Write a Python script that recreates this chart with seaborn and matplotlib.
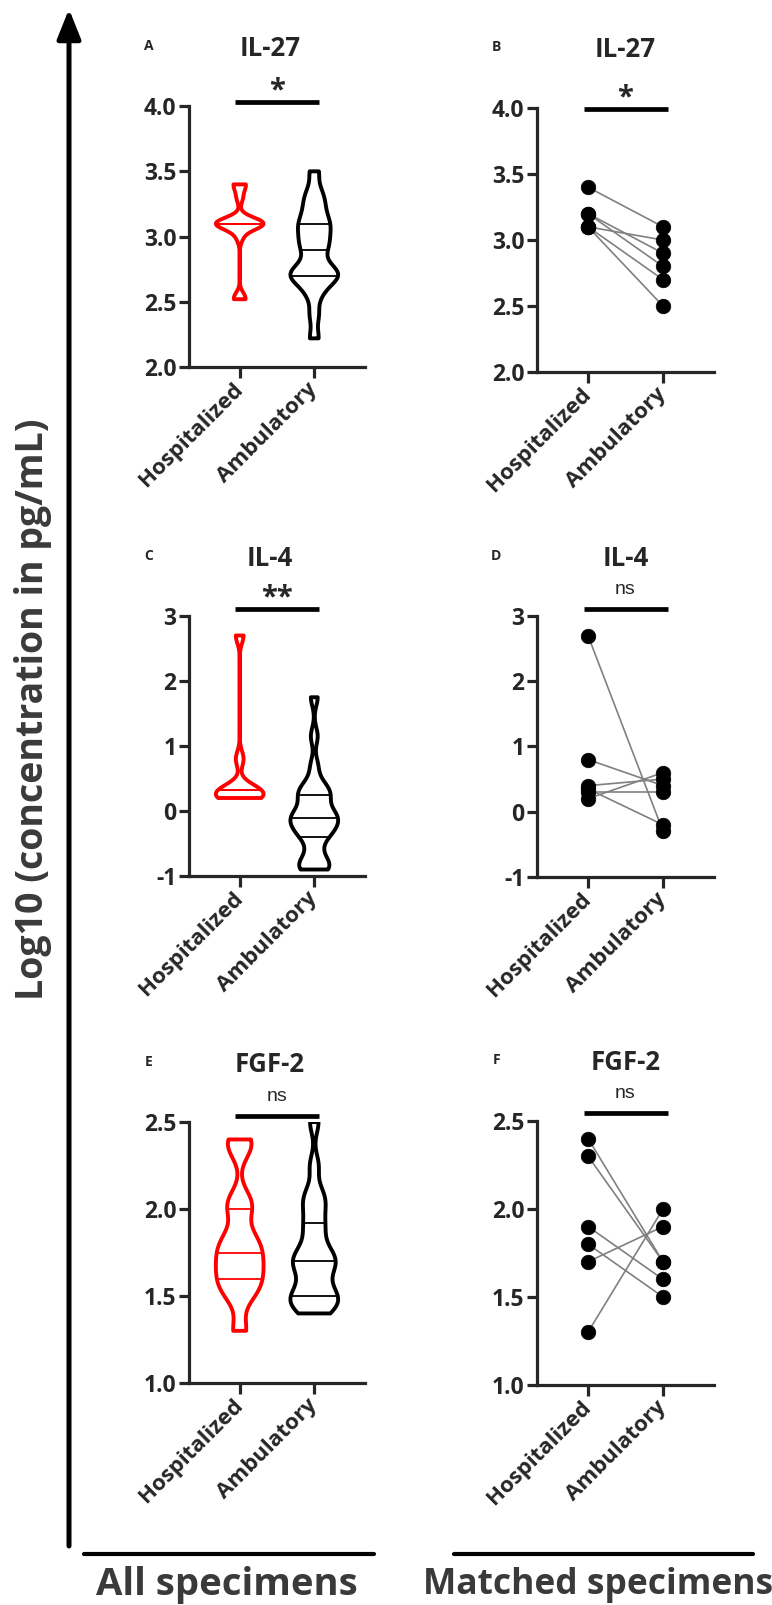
import numpy as np
import pandas as pd
import matplotlib
matplotlib.use("Agg")
import matplotlib.pyplot as plt
from matplotlib.lines import Line2D
from matplotlib.ticker import FormatStrFormatter
import seaborn as sns

groups = ["Hospitalized", "Ambulatory"]
cytokines = ["IL-27", "IL-4", "FGF-2"]

# all specimens, log10 pg/mL
il27_hosp = [2.52, 2.53, 3.0, 3.1, 3.1, 3.1, 3.1, 3.1, 3.1, 3.1, 3.1, 3.3, 3.4, 3.4]
il27_amb = [2.22, 2.4, 2.55, 2.62, 2.68, 2.7, 2.7, 2.72, 2.75, 2.8, 2.9,
            2.92, 2.98, 3.02, 3.08, 3.1, 3.15, 3.22, 3.28, 3.35, 3.5]
il4_hosp = [0.2, 0.2, 0.2, 0.25, 0.33, 0.33, 0.33, 0.8, 2.7]
il4_amb = [-0.9, -0.9, -0.85, -0.8, -0.7, -0.55, -0.4, -0.35, -0.3, -0.25, -0.2, -0.15,
           -0.1, -0.08, -0.05, 0.0, 0.1, 0.2, 0.25, 0.3, 0.35, 0.45, 0.7, 1.15, 1.75]
fgf2_hosp = [1.3, 1.5, 1.55, 1.6, 1.65, 1.7, 1.75, 1.8, 1.85, 2.0, 2.05, 2.35, 2.4]
fgf2_amb = [1.4, 1.42, 1.45, 1.48, 1.5, 1.5, 1.55, 1.6, 1.65, 1.68, 1.7,
            1.72, 1.75, 1.8, 1.88, 1.92, 2.0, 2.05, 2.1, 2.25, 2.5]

# matched specimens (same index = same patient)
il27_pair_hosp = [3.4, 3.1, 3.2, 3.2, 3.1, 3.1]
il27_pair_amb = [3.1, 3.0, 2.9, 2.8, 2.7, 2.5]
il4_pair_hosp = [2.7, 0.8, 0.4, 0.3, 0.2, 0.35]
il4_pair_amb = [-0.3, 0.4, 0.5, 0.3, 0.6, -0.2]
fgf2_pair_hosp = [2.4, 2.3, 1.9, 1.8, 1.7, 1.3]
fgf2_pair_amb = [1.7, 1.7, 1.6, 1.5, 1.9, 2.0]

signif_all = ["*", "**", "ns"]
signif_matched = ["*", "ns", "ns"]
letters_all = ["A", "C", "E"]
letters_matched = ["B", "D", "F"]

yticks = [[2.0, 2.5, 3.0, 3.5, 4.0], [-1, 0, 1, 2, 3], [1.0, 1.5, 2.0, 2.5]]
yfmt = ["%.1f", "%d", "%.1f"]

all_data = [(il27_hosp, il27_amb), (il4_hosp, il4_amb), (fgf2_hosp, fgf2_amb)]
pair_data = [(il27_pair_hosp, il27_pair_amb), (il4_pair_hosp, il4_pair_amb),
             (fgf2_pair_hosp, fgf2_pair_amb)]

# layout / style
violin_colors = ["#ff0000", "black"]
bw_adj = [(0.3, 0.4), (0.23, 0.4), (0.4, 0.4)]
sig_y_all = [4.03, 3.11, 2.535]
sig_y_matched = [3.99, 3.11, 2.546]
left_pos = [[0.2448, 0.7713, 0.228, 0.1626], [0.2448, 0.4542, 0.228, 0.162],
            [0.2448, 0.1383, 0.228, 0.1626]]
right_pos = [[0.6956, 0.7682, 0.2293, 0.1645], [0.6956, 0.4536, 0.2293, 0.1626],
             [0.6956, 0.1371, 0.2293, 0.1645]]

FONT = ["Open Sans", "DejaVu Sans"]
sns.set_style("ticks")
plt.rcParams["font.family"] = FONT
plt.rcParams["font.weight"] = "bold"

fig = plt.figure(figsize=(7.72, 16.05), dpi=100)


def style_axes(ax, row, letter, title, sig, sig_y, title_x):
    ax.set_xlim(-0.68, 1.68)
    ax.set_ylim(yticks[row][0], yticks[row][-1])
    ax.set_yticks(yticks[row])
    ax.yaxis.set_major_formatter(FormatStrFormatter(yfmt[row]))
    ax.set_xticks([0, 1])
    ax.set_xticklabels(groups, rotation=45, ha="right", va="center",
                       rotation_mode="anchor", fontsize=16, fontweight="bold")
    ax.tick_params(axis="y", labelsize=16.5, width=2.3, length=7, pad=2)
    ax.tick_params(axis="x", width=2.3, length=8, pad=6)
    for lab in ax.get_xticklabels() + ax.get_yticklabels():
        lab.set_fontweight("bold")
    for s in ["top", "right"]:
        ax.spines[s].set_visible(False)
    for s in ["left", "bottom"]:
        ax.spines[s].set_linewidth(2.3)
    ax.set_xlabel("")
    ax.set_ylabel("")
    ax.text(title_x, 1.22, title, transform=ax.transAxes, ha="center", va="center",
            fontsize=18.5, fontweight="bold")
    ax.text(-0.23, 1.23, letter, transform=ax.transAxes, ha="center", va="center",
            fontsize=10, fontweight="bold")
    ax.plot([-0.06, 1.06], [sig_y, sig_y], color="black", lw=3.4,
            solid_capstyle="butt", clip_on=False)
    if sig == "ns":
        ax.annotate(sig, (0.5, sig_y), xytext=(0, 14), textcoords="offset points",
                    ha="center", va="center", fontsize=14, fontweight="normal",
                    family=["Liberation Sans", "DejaVu Sans"], annotation_clip=False)
    else:
        ax.annotate(sig, (0.5, sig_y), xytext=(0, 8), textcoords="offset points",
                    ha="center", va="center", fontsize=21, fontweight="bold",
                    annotation_clip=False)


for row in range(3):
    # all specimens: violins
    ax = fig.add_axes(left_pos[row])
    for g, vals in enumerate(all_data[row]):
        df = pd.DataFrame({"group": [groups[g]] * len(vals), "value": vals})
        sns.violinplot(data=df, x="group", y="value", order=groups,
                       color=violin_colors[g], fill=False, inner="quart", cut=0,
                       density_norm="width", width=0.64, linewidth=2.8,
                       bw_adjust=bw_adj[row][g], ax=ax)
    for ln in ax.lines:
        xd = np.asarray(ln.get_xdata(), dtype=float)
        ln.set_color(violin_colors[int(round(xd.mean()))])
        if len(xd) == 2:
            ln.set_linestyle("-")
            ln.set_linewidth(1.3)
        else:
            ln.set_linewidth(2.8)
    for coll in ax.collections:
        coll.set_linewidth(2.8)
    style_axes(ax, row, letters_all[row], cytokines[row], signif_all[row],
               sig_y_all[row], 0.46)

    # matched specimens: paired dots
    ax = fig.add_axes(right_pos[row])
    hosp, amb = pair_data[row]
    n = len(hosp)
    df = pd.DataFrame({
        "pair": list(range(n)) * 2,
        "pos": [groups.index("Hospitalized")] * n + [groups.index("Ambulatory")] * n,
        "value": list(hosp) + list(amb),
    })
    sns.lineplot(data=df, x="pos", y="value", units="pair", estimator=None,
                 color="#808080", lw=1.2, ax=ax, legend=False)
    sns.scatterplot(data=df, x="pos", y="value", color="black", s=110,
                    edgecolor="black", linewidth=0.5, zorder=3, ax=ax,
                    legend=False, clip_on=False)
    style_axes(ax, row, letters_matched[row], cytokines[row], signif_matched[row],
               sig_y_matched[row], 0.5)

# big y arrow and label
fig.add_artist(matplotlib.patches.FancyArrowPatch(
    (69 / 772, 1 - 1546 / 1605), (69 / 772, 1 - 9 / 1605),
    transform=fig.transFigure, arrowstyle="-|>,head_width=0.36,head_length=0.9",
    mutation_scale=20, lw=3.6, color="black", shrinkA=0, shrinkB=0))
fig.text(33 / 772, 1 - 709 / 1605, "Log10 (concentration in pg/mL)", rotation=90,
         ha="center", va="center", fontsize=27, fontweight="bold", color="#3a3a3a")

# group brackets at the bottom
yb = 1 - 1554 / 1605
fig.add_artist(Line2D([84 / 772, 374 / 772], [yb, yb], transform=fig.transFigure,
                      color="black", lw=3))
fig.add_artist(Line2D([454 / 772, 753 / 772], [yb, yb], transform=fig.transFigure,
                      color="black", lw=3))
fig.text(227 / 772, 1 - 1585 / 1605, "All specimens", ha="center", va="center",
         fontsize=27.5, fontweight="bold", color="#3a3a3a")
fig.text(598 / 772, 1 - 1585 / 1605, "Matched specimens", ha="center", va="center",
         fontsize=25.5, fontweight="bold", color="#3a3a3a")

fig.savefig("out.png", dpi=100)
